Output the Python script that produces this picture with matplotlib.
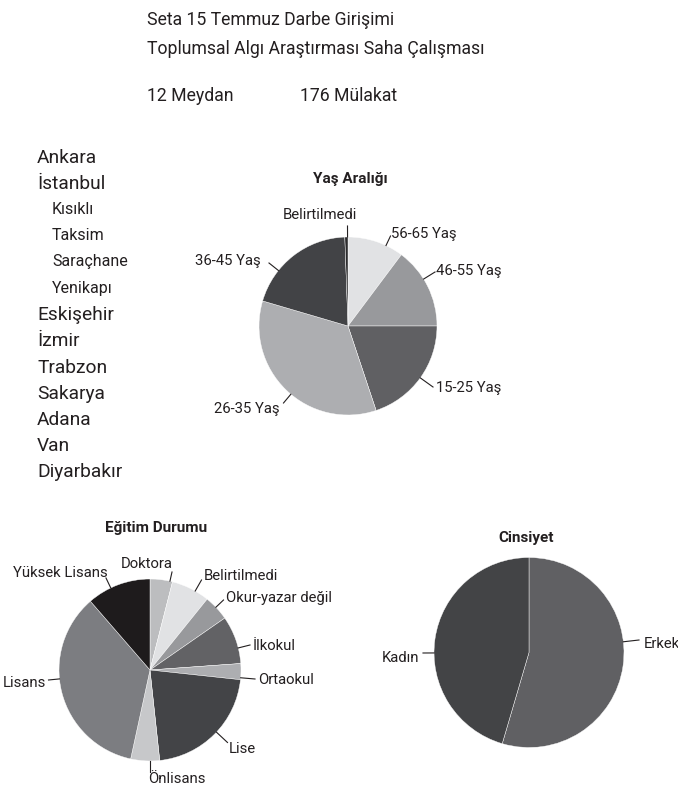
import numpy as np
import matplotlib
matplotlib.use("Agg")
import matplotlib.pyplot as plt
from matplotlib.lines import Line2D

W, H = 678, 788
FONT = ['Roboto', 'DejaVu Sans']
plt.rcParams['font.family'] = FONT
TXT = '#231f20'
WEIGHT = 'normal'

# ---------------- data ----------------
title_lines = ["Seta 15 Temmuz Darbe Girişimi", "Toplumsal Algı Araştırması Saha Çalışması"]
stats = ["12 Meydan", "176 Mülakat"]
cities = ["Ankara", "İstanbul", "Kısıklı", "Taksim", "Saraçhane", "Yenikapı", "Eskişehir",
          "İzmir", "Trabzon", "Sakarya", "Adana", "Van", "Diyarbakır"]
city_is_sub = [False, False, True, True, True, True, False, False, False, False, False, False, False]

age_title = "Yaş Aralığı"
age_labels = ["56-65 Yaş", "46-55 Yaş", "15-25 Yaş", "26-35 Yaş", "36-45 Yaş", "Belirtilmedi"]
age_values = [18, 26, 35, 61, 35, 1]
age_colors = ["#e1e2e4", "#98999c", "#606063", "#adaeb1", "#424346", "#2b2b2d"]

edu_title = "Eğitim Durumu"
edu_labels = ["Doktora", "Belirtilmedi", "Okur-yazar değil", "İlkokul", "Ortaokul", "Lise",
              "Önlisans", "Lisans", "Yüksek Lisans"]
edu_values = [7, 12, 8, 15, 5, 38, 9, 62, 20]
edu_colors = ["#bcbdbf", "#e1e2e4", "#98999c", "#626265", "#adaeb1", "#434447",
              "#c7c8ca", "#7c7d81", "#1e1b1c"]

sex_title = "Cinsiyet"
sex_labels = ["Erkek", "Kadın"]
sex_values = [96, 80]
sex_colors = ["#606063", "#434446"]

# ---------------- layout (pixels) ----------------
fig = plt.figure(figsize=(W / 100, H / 100), dpi=100)
fig.patch.set_facecolor('white')


def P(x, y):
    return (x / W, 1 - y / H)


def ftext(x, y, s, **kw):
    kw.setdefault('color', TXT)
    kw.setdefault('fontweight', WEIGHT)
    fig.text(*P(x, y), s, transform=fig.transFigure, **kw)


# header
ftext(147, 25, title_lines[0], fontsize=12.7, va='baseline', ha='left')
ftext(147, 53.5, title_lines[1], fontsize=12.7, va='baseline', ha='left')
ftext(147, 101, stats[0], fontsize=12.7, va='baseline', ha='left')
ftext(300, 101, stats[1], fontsize=12.7, va='baseline', ha='left')

# city list
y0, dy = 163, 26.2
for i, (c, sub) in enumerate(zip(cities, city_is_sub)):
    y = y0 + i * dy - (1.5 if sub else 0)
    ftext(52 if sub else 37, y, c, fontsize=11.5 if sub else 13.8, va='baseline', ha='left')


def draw_pie(cx, cy, r, values, colors, labels, title, title_xy, label_specs):
    ax = fig.add_axes([(cx - r) / W, (H - cy - r) / H, 2 * r / W, 2 * r / H])
    ax.pie(values, colors=colors, startangle=90, counterclock=False, radius=1,
           wedgeprops=dict(edgecolor='white', linewidth=0.3))
    ax.set_xlim(-1, 1)
    ax.set_ylim(-1, 1)
    ax.set_aspect('equal')
    ax.axis('off')
    ftext(title_xy[0], title_xy[1], title, fontsize=11, fontweight='bold', ha='center', va='baseline')
    for lab, (ex, ey, tx, ty, ha) in zip(labels, label_specs):
        vx, vy = ex - cx, ey - cy
        d = np.hypot(vx, vy)
        sx, sy = cx + r * vx / d, cy + r * vy / d
        fig.add_artist(Line2D([sx / W, ex / W], [1 - sy / H, 1 - ey / H],
                              transform=fig.transFigure, color=TXT, lw=0.8))
        ftext(tx, ty, lab, fontsize=10.7, ha=ha, va='baseline')


# label specs: line end x, y, text x, text baseline y, ha
age_specs = [
    (390.5, 236, 391, 238, 'left'),
    (435, 272, 436, 274.5, 'left'),
    (433, 387, 436, 392, 'left'),
    (283.5, 403, 280, 413, 'right'),
    (269, 263, 261, 265, 'right'),
    (347.5, 226, 320, 219, 'center'),
]
draw_pie(348, 326, 89, age_values, age_colors, age_labels, age_title, (350, 183.5), age_specs)

edu_specs = [
    (172, 572, 147, 568, 'center'),
    (201.5, 580, 204, 580, 'left'),
    (223.5, 600, 226, 602, 'left'),
    (250, 645, 253, 650, 'left'),
    (255, 679, 258, 684, 'left'),
    (227.5, 742.5, 229, 753, 'left'),
    (150, 771.5, 177, 783, 'center'),
    (48.5, 680, 46.5, 687, 'right'),
    (106, 578, 60, 577, 'center'),
]
draw_pie(150, 670, 91, edu_values, edu_colors, edu_labels, edu_title, (156, 532), edu_specs)

sex_specs = [
    (639, 640, 644, 648, 'left'),
    (423, 653, 419, 662, 'right'),
]
draw_pie(529, 652.5, 95, sex_values, sex_colors, sex_labels, sex_title, (526, 542), sex_specs)

fig.savefig('out.png', dpi=100, facecolor='white')
